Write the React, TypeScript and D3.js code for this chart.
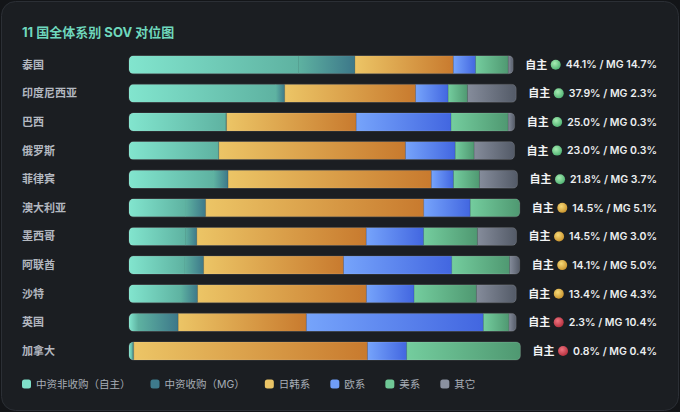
import { useRef, useEffect } from "react";
import * as d3 from "d3";

const WIDTH = 680;
const HEIGHT = 412;
const FONT = "Inter, 'Noto Sans CJK SC', 'Noto Sans', sans-serif";

const TITLE = "11 国全体系别 SOV 对位图";

const countries = ["泰国", "印度尼西亚", "巴西", "俄罗斯", "菲律宾", "澳大利亚", "墨西哥", "阿联酋", "沙特", "英国", "加拿大"];
const selfShare = [44.1, 37.9, 25.0, 23.0, 21.8, 14.5, 14.5, 14.1, 13.4, 2.3, 0.8];
const mgShare = [14.7, 2.3, 0.3, 0.3, 3.7, 5.1, 3.0, 5.0, 4.3, 10.4, 0.4];
const jkShare = [25.6, 33.8, 33.6, 48.4, 52.3, 55.8, 43.7, 35.8, 43.6, 33.1, 59.7];
const euShare = [5.8, 8.4, 24.6, 12.9, 5.7, 11.9, 14.8, 27.7, 12.3, 45.7, 10.0];
const usShare = [8.5, 5.0, 14.8, 4.9, 6.7, 12.7, 13.9, 14.8, 16.1, 6.6, 29.1];
const otherShare = [1.3, 12.6, 1.7, 10.5, 9.8, 0, 10.1, 2.6, 10.3, 1.9, 0];

const seriesKeys = ["self", "mg", "jk", "eu", "us", "other"];
const seriesLabels = ["中资非收购（自主）", "中资收购（MG）", "日韩系", "欧系", "美系", "其它"];
const seriesSwatch = ["#7fe0c9", "#3e7a8c", "#eac466", "#6f9df7", "#6fc896", "#8a91a0"];
// left -> right gradient stops per segment
const seriesGrad: [string, string][] = [
  ["#82e5ce", "#5eb2a1"],
  ["#5eb2a1", "#3c7789"],
  ["#ecc566", "#c87a2e"],
  ["#76a4fb", "#4266e0"],
  ["#74cd9e", "#4f9871"],
  ["#858c9b", "#535a67"],
];

interface Row {
  country: string;
  self: number;
  mg: number;
  jk: number;
  eu: number;
  us: number;
  other: number;
}

const rows: Row[] = countries.map((c, i) => ({
  country: c,
  self: selfShare[i],
  mg: mgShare[i],
  jk: jkShare[i],
  eu: euShare[i],
  us: usShare[i],
  other: otherShare[i],
}));

function dotColor(v: number): string {
  if (v >= 20) return "url(#dot-green)";
  if (v >= 10) return "url(#dot-yellow)";
  return "url(#dot-red)";
}

export default function App() {
  const svgRef = useRef<SVGSVGElement>(null);

  useEffect(() => {
    const svg = d3.select(svgRef.current);
    svg.selectAll("*").remove();

    const defs = svg.append("defs");
    seriesKeys.forEach((k, i) => {
      const lg = defs.append("linearGradient").attr("id", `grad-${k}`).attr("x1", 0).attr("x2", 1).attr("y1", 0).attr("y2", 0);
      lg.append("stop").attr("offset", "0%").attr("stop-color", seriesGrad[i][0]);
      lg.append("stop").attr("offset", "100%").attr("stop-color", seriesGrad[i][1]);
    });
    const dots: [string, string, string][] = [
      ["dot-green", "#a6ecb2", "#4cb070"],
      ["dot-yellow", "#f6d978", "#c8912a"],
      ["dot-red", "#ef7480", "#b12c3a"],
    ];
    dots.forEach(([id, a, b]) => {
      const rg = defs.append("radialGradient").attr("id", id).attr("cx", "40%").attr("cy", "35%").attr("r", "70%");
      rg.append("stop").attr("offset", "0%").attr("stop-color", a);
      rg.append("stop").attr("offset", "100%").attr("stop-color", b);
    });

    // page + card
    svg.append("rect").attr("width", WIDTH).attr("height", HEIGHT).attr("fill", "#131518");
    svg
      .append("rect")
      .attr("x", 1.5)
      .attr("y", 1.5)
      .attr("width", WIDTH - 3)
      .attr("height", HEIGHT - 3)
      .attr("rx", 14)
      .attr("fill", "#1b1e22")
      .attr("stroke", "#2b2f35")
      .attr("stroke-width", 1);

    svg
      .append("text")
      .attr("x", 22)
      .attr("y", 36.5)
      .attr("fill", "#6fd8bd")
      .attr("font-size", "13px")
      .attr("font-weight", 700)
      .attr("font-family", FONT)
      .text(TITLE);

    const yScale = d3
      .scaleBand<string>()
      .domain(countries)
      .range([50.4, 365.3])
      .paddingInner(0.371)
      .paddingOuter(0.1855);
    const bh = yScale.bandwidth();

    const stack = d3.stack<Row>().keys(seriesKeys);
    const stacked = stack(rows);

    const X0 = 129;
    const LABEL_RIGHT = 657;

    rows.forEach((row, i) => {
      const y = yScale(row.country)!;
      const cy = y + bh / 2;

      // country name
      svg
        .append("text")
        .attr("x", 22)
        .attr("y", cy)
        .attr("dy", "0.36em")
        .attr("fill", "#b3b8c0")
        .attr("font-size", "11px")
        .attr("font-weight", 600)
        .attr("font-family", FONT)
        .text(row.country);

      // right label (measured so the bar can fill remaining space)
      const lbl = svg.append("g");
      const val = lbl
        .append("text")
        .attr("x", LABEL_RIGHT)
        .attr("y", cy)
        .attr("dy", "0.36em")
        .attr("text-anchor", "end")
        .attr("fill", "#eceef0")
        .attr("font-size", "10.5px")
        .attr("font-weight", 600)
        .attr("font-family", FONT)
        .text(`${row.self.toFixed(1)}% / MG ${row.mg.toFixed(1)}%`);
      const wv = (val.node() as SVGTextElement).getComputedTextLength();
      const dotCx = LABEL_RIGHT - wv - 5 - 5;
      lbl.append("circle").attr("cx", dotCx).attr("cy", cy).attr("r", 5).attr("fill", dotColor(row.self));
      const zz = lbl
        .append("text")
        .attr("x", dotCx - 5 - 3.5)
        .attr("y", cy)
        .attr("dy", "0.36em")
        .attr("text-anchor", "end")
        .attr("fill", "#f1f2f4")
        .attr("font-size", "11px")
        .attr("font-weight", 700)
        .attr("font-family", FONT)
        .text("自主");
      const wz = (zz.node() as SVGTextElement).getComputedTextLength();
      const labelStart = dotCx - 5 - 3.5 - wz;
      const barEnd = labelStart - 12;

      const x = d3.scaleLinear().domain([0, 100]).range([X0, barEnd]);

      const clipId = `clip-${i}`;
      defs
        .append("clipPath")
        .attr("id", clipId)
        .append("rect")
        .attr("x", X0)
        .attr("y", y)
        .attr("width", barEnd - X0)
        .attr("height", bh)
        .attr("rx", 4.5);

      const bar = svg.append("g").attr("clip-path", `url(#${clipId})`);
      stacked.forEach((layer, k) => {
        const [a, b] = layer[i];
        if (b - a <= 0) return;
        bar
          .append("rect")
          .attr("x", x(a))
          .attr("y", y)
          .attr("width", x(b) - x(a) + 0.3)
          .attr("height", bh)
          .attr("fill", `url(#grad-${seriesKeys[k]})`);
        // thin divider between series, none between the two Chinese parts
        if (k > 1 && a > 0) {
          bar
            .append("line")
            .attr("x1", x(a))
            .attr("x2", x(a))
            .attr("y1", y)
            .attr("y2", y + bh)
            .attr("stroke", "rgba(30,30,30,0.22)")
            .attr("stroke-width", 0.8);
        }
      });
      svg
        .append("rect")
        .attr("x", X0)
        .attr("y", y)
        .attr("width", barEnd - X0)
        .attr("height", bh)
        .attr("rx", 4.5)
        .attr("fill", "none")
        .attr("stroke", "rgba(255,255,255,0.14)")
        .attr("stroke-width", 1);
    });

    // legend
    let lx = 22;
    const legendY = 384;
    seriesLabels.forEach((label, i) => {
      svg
        .append("rect")
        .attr("x", lx)
        .attr("y", legendY - 4.5)
        .attr("width", 9)
        .attr("height", 9)
        .attr("rx", 2.5)
        .attr("fill", seriesSwatch[i]);
      const t = svg
        .append("text")
        .attr("x", lx + 14)
        .attr("y", legendY)
        .attr("dy", "0.36em")
        .attr("fill", "#a8aeb7")
        .attr("font-size", "10.5px")
        .attr("font-family", FONT)
        .text(label);
      const w = (t.node() as SVGTextElement).getComputedTextLength();
      lx = lx + 14 + w + 20;
    });
  }, []);

  return (
    <svg
      ref={svgRef}
      width={WIDTH}
      height={HEIGHT}
      style={{ position: "absolute", left: 0, top: 0, display: "block" }}
    />
  );
}
